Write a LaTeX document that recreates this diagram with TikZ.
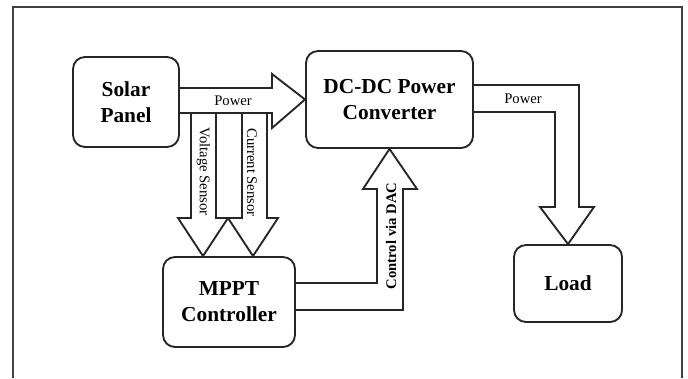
\documentclass[tikz,border=0pt]{standalone}
\usepackage{fontspec}
\setmainfont{Liberation Serif}
\usepackage{tikz}

\tikzset{
  block/.style={draw=black!85, line width=1.4pt, rounded corners=9pt, align=center,
    font=\fontsize{16}{19.5}\selectfont\bfseries, inner sep=0pt},
  blockarrow/.style={draw=black!85, line width=1.4pt, line join=miter},
  smalllabel/.style={font=\fontsize{11}{13}\selectfont, inner sep=0.75pt}
}

\begin{document}
\begin{tikzpicture}[x=0.75pt,y=0.75pt,yscale=-1,xscale=1]
\useasboundingbox (0,0) rectangle (688,378);

% Frame
\draw [draw=black!75, line width=1.2pt] (13,378) -- (13,7) -- (682,7) -- (682,378);

% Blocks
\node [block, minimum width=79.5pt, minimum height=67.5pt] (solar) at (126,102) {Solar\\Panel};
\node [block, minimum width=125.25pt, minimum height=72.75pt] (dcdc) at (389.5,99.5) {DC-DC Power\\Converter};
\node [block, minimum width=99pt, minimum height=67.5pt] (mppt) at (229,302) {MPPT\\Controller};
\node [block, minimum width=81pt, minimum height=57.75pt] (load) at (568,283.5) {Load};

% Power into converter
\draw [blockarrow] (solar.east |- 0,88) -- (272,88) -- (272,74) -- (dcdc.west) -- (272,128) -- (272,113) -- (solar.east |- 0,113);
% Voltage sensor
\draw [blockarrow] (191,113) -- (191,218) -- (178,218) -- (203,0 |- mppt.north) -- (228,218) -- (216,218) -- (216,113);
% Current sensor
\draw [blockarrow] (242,113) -- (242,218) -- (228,218) -- (253,0 |- mppt.north) -- (278,218) -- (267,218) -- (267,113);
% Control via DAC
\draw [blockarrow] (mppt.east |- 0,283) -- (377,283) -- (377,189) -- (363,189) -- (dcdc.south) -- (417,189) -- (403,189) -- (403,310) -- (mppt.east |- 0,310);
% Power to load
\draw [blockarrow] (dcdc.east |- 0,85) -- (579,85) -- (579,207) -- (594,207) -- (load.north) -- (540,207) -- (555,207) -- (555,112) -- (dcdc.east |- 0,112);

% Labels
\node [smalllabel] (pin) at (233,101) {Power};
\node [smalllabel] (pout) at (523,99) {Power};
\node [smalllabel, rotate=-90] (vsense) at (203.5,171.5) {Voltage Sensor};
\node [smalllabel, rotate=-90] (csense) at (252,172.5) {Current Sensor};
\node [smalllabel, rotate=90, font=\fontsize{11}{13}\selectfont\bfseries] (dac) at (391,236) {Control via DAC};

\end{tikzpicture}
\end{document}
